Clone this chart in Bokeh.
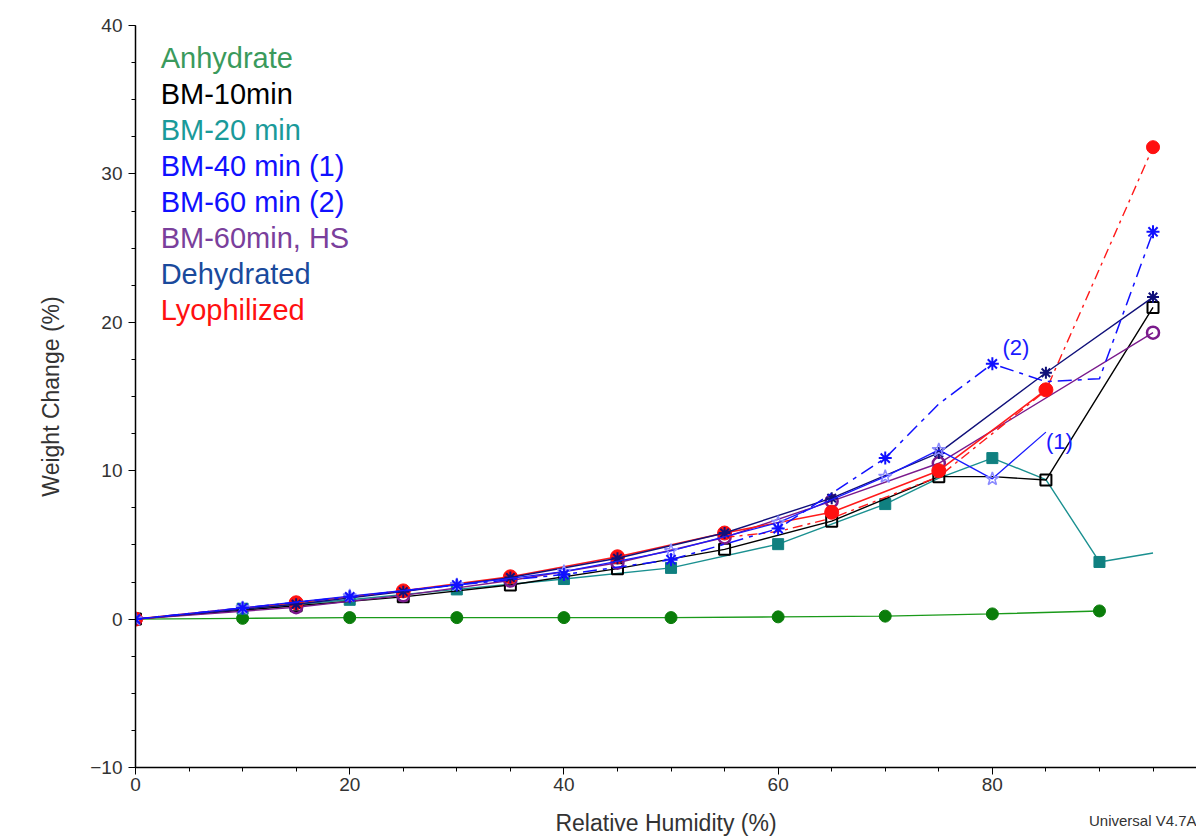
from bokeh.plotting import figure
from bokeh.models import SingleIntervalTicker, Label, ColumnDataSource, Title
from bokeh.core.properties import value
from bokeh.embed import file_html
from bokeh.resources import INLINE

FONT = "Liberation Sans"

# ---------------- data ----------------
rh_anh = [0, 10, 20, 30, 40, 50, 60, 70, 80, 90]
wc_anh = [0, 0.05, 0.1, 0.1, 0.1, 0.1, 0.15, 0.2, 0.35, 0.55]

rh_bm10 = [0, 15, 25, 35, 45, 55, 65, 75, 80, 85, 95]
wc_bm10 = [0, 0.9, 1.5, 2.3, 3.4, 4.7, 6.6, 9.6, 9.6, 9.37, 21.0]
mk_bm10 = [1, 1, 1, 1, 1, 1, 1, 1, 0, 1, 1]

rh_bm20 = [0, 10, 20, 30, 40, 50, 60, 70, 75, 80, 85, 90, 95]
wc_bm20 = [0, 0.7, 1.3, 2.0, 2.7, 3.45, 5.05, 7.75, 9.5, 10.85, 9.4, 3.85, 4.45]
mk_bm20 = [1, 1, 1, 1, 1, 1, 1, 1, 0, 1, 0, 1, 0]

rh_bm40 = [0, 10, 20, 30, 40, 50, 60, 70, 75, 80, 85]
wc_bm40 = [0, 0.75, 1.55, 2.3, 3.2, 4.6, 6.5, 9.6, 11.4, 9.45, 12.6]
mk_bm40 = [1, 1, 1, 1, 1, 1, 1, 1, 1, 1, 0]

rh_bm60 = [0, 10, 20, 30, 40, 50, 60, 70, 75, 80, 85, 90, 95]
wc_bm60 = [0, 0.75, 1.5, 2.3, 3.0, 4.0, 6.1, 10.85, 14.5, 17.2, 16.0, 16.2, 26.1]
mk_bm60 = [1, 1, 1, 1, 1, 1, 1, 1, 0, 1, 0, 0, 1]

rh_hs = [0, 15, 25, 35, 45, 55, 65, 75, 95]
wc_hs = [0, 0.8, 1.6, 2.6, 3.8, 5.5, 7.95, 10.5, 19.3]

rh_deh = [0, 15, 25, 35, 45, 55, 65, 75, 85, 95]
wc_deh = [0, 1.0, 1.85, 2.8, 4.1, 5.8, 8.15, 11.2, 16.6, 21.7]

rh_lyo = [0, 15, 25, 35, 45, 55, 65, 75, 85]
wc_lyo = [0, 1.1, 1.9, 2.85, 4.2, 5.8, 7.2, 10.0, 15.45]
rh_lyo2 = [55, 60, 65, 70, 75, 80, 85, 95]
wc_lyo2 = [5.5, 5.9, 6.8, 8.2, 9.6, 12.5, 15.4, 31.8]

legend_names = ["Anhydrate", "BM-10min", "BM-20 min", "BM-40 min (1)",
                "BM-60 min (2)", "BM-60min, HS", "Dehydrated", "Lyophilized"]
legend_colors = ["#3a9a5c", "#000000", "#1a9a9a", "#1010ff",
                 "#1010ff", "#7a3f9c", "#1a4a9c", "#ff1010"]

x_ticks_interval = 20
y_ticks_interval = 10

# ---------------- figure ----------------
p = figure(width=1196, height=838, x_range=(0, 99.06), y_range=(-10, 40),
           output_backend="svg", toolbar_location=None,
           min_border_left=135, min_border_right=0, min_border_top=25,
           min_border_bottom=71)
p.outline_line_color = None
p.xgrid.visible = False
p.ygrid.visible = False
p.background_fill_color = "white"
p.border_fill_color = "white"

p.xaxis.ticker = SingleIntervalTicker(interval=x_ticks_interval, num_minor_ticks=4)
p.yaxis.ticker = SingleIntervalTicker(interval=y_ticks_interval, num_minor_ticks=4)
for ax in (p.xaxis[0], p.yaxis[0]):
    ax.axis_line_color = "black"
    ax.axis_line_width = 1.5
    ax.major_tick_in = 0
    ax.major_tick_out = 7
    ax.minor_tick_in = 0
    ax.minor_tick_out = 4
    ax.major_tick_line_color = "black"
    ax.minor_tick_line_color = "black"
    ax.major_label_text_font = FONT
    ax.major_label_text_font_size = "19px"
    ax.major_label_text_color = "#333333"
    ax.axis_label_text_font = FONT
    ax.axis_label_text_font_size = "23px"
    ax.axis_label_text_font_style = "normal"
    ax.axis_label_text_color = "#333333"
p.xaxis.axis_label = "Relative Humidity (%)"
p.yaxis.axis_label = "Weight Change (%)"
p.xaxis.axis_label_standoff = 16
p.yaxis.axis_label_standoff = 23
p.xaxis.major_label_standoff = 3
p.yaxis.major_label_standoff = 6

# instrument stamp, bottom right, on the axis-label line
stamp = Title(text="Universal V4.7A", align="right", vertical_align="top",
              text_font=FONT, text_font_size="15px", text_font_style="normal",
              text_color="#333333", standoff=-54)
p.add_layout(stamp, "below")


def pick(xs, ys, mask):
    return [x for x, m in zip(xs, mask) if m], [y for y, m in zip(ys, mask) if m]


# Anhydrate
p.line(rh_anh, wc_anh, line_color="#1a9a1a", line_width=1.4)
p.scatter(rh_anh, wc_anh, marker="circle", size=12, fill_color="#0a7d0a", line_color="#0a7d0a")

# BM-20 min
p.line(rh_bm20, wc_bm20, line_color="#1a9090", line_width=1.4)
mx, my = pick(rh_bm20, wc_bm20, mk_bm20)
p.scatter(mx, my, marker="square", size=11, fill_color="#108080", line_color="#108080")

# BM-10min
p.line(rh_bm10, wc_bm10, line_color="black", line_width=1.4)
mx, my = pick(rh_bm10, wc_bm10, mk_bm10)
p.scatter(mx, my, marker="square", size=11, fill_color=None, line_color="black", line_width=2)

# BM-60min, HS
p.line(rh_hs, wc_hs, line_color="#7a1a8c", line_width=1.4)
p.scatter(rh_hs, wc_hs, marker="circle", size=12, fill_color=None, line_color="#7a1a8c", line_width=2.5)

# Lyophilized
p.line(rh_lyo2, wc_lyo2, line_color="#ff1a1a", line_width=1.4, line_dash="10 5 3 5")
p.line(rh_lyo, wc_lyo, line_color="#ff1a1a", line_width=1.6)
p.scatter(rh_lyo, wc_lyo, marker="circle", size=14, fill_color="#ff1010", line_color="#ff1010")
p.scatter(rh_lyo2[-1:], wc_lyo2[-1:], marker="circle", size=13, fill_color="#ff1010", line_color="#ff1010")

# Dehydrated
p.line(rh_deh, wc_deh, line_color="#10107a", line_width=1.4)
p.scatter(rh_deh, wc_deh, marker="asterisk", size=12, line_color="#10107a", line_width=2)

# BM-40 min (1)
p.line(rh_bm40, wc_bm40, line_color="#1a1aff", line_width=1.3)
mx, my = pick(rh_bm40, wc_bm40, mk_bm40)
p.scatter(mx, my, marker="star", size=14, fill_color=None, line_color="#8a8aff", line_width=1.5)

# BM-60 min (2)
p.line(rh_bm60, wc_bm60, line_color="#1010ff", line_width=1.5, line_dash="14 6 4 6")
mx, my = pick(rh_bm60, wc_bm60, mk_bm60)
p.scatter(mx, my, marker="asterisk", size=13, line_color="#1010ff", line_width=2)

# legend (text only)
n = len(legend_names)
leg_y0 = 37.82
leg_dy = 36 / 14.83
src = ColumnDataSource(dict(x=[2.35] * n,
                            y=[leg_y0 - i * leg_dy for i in range(n)],
                            t=legend_names, c=legend_colors))
p.text(x="x", y="y", text="t", text_color="c", source=src,
       text_font=value(FONT), text_font_size="29px",
       text_baseline="alphabetic", text_align="left")

# curve annotations
p.add_layout(Label(x=80.95, y=18.27, text="(2)", text_color="#1a1aff",
                   text_font=FONT, text_font_size="22px", text_baseline="alphabetic"))
p.add_layout(Label(x=85.0, y=12.0, text="(1)", text_color="#1a1aff",
                   text_font=FONT, text_font_size="22px", text_baseline="alphabetic"))

open("out.html", "w").write(file_html(p, INLINE))
